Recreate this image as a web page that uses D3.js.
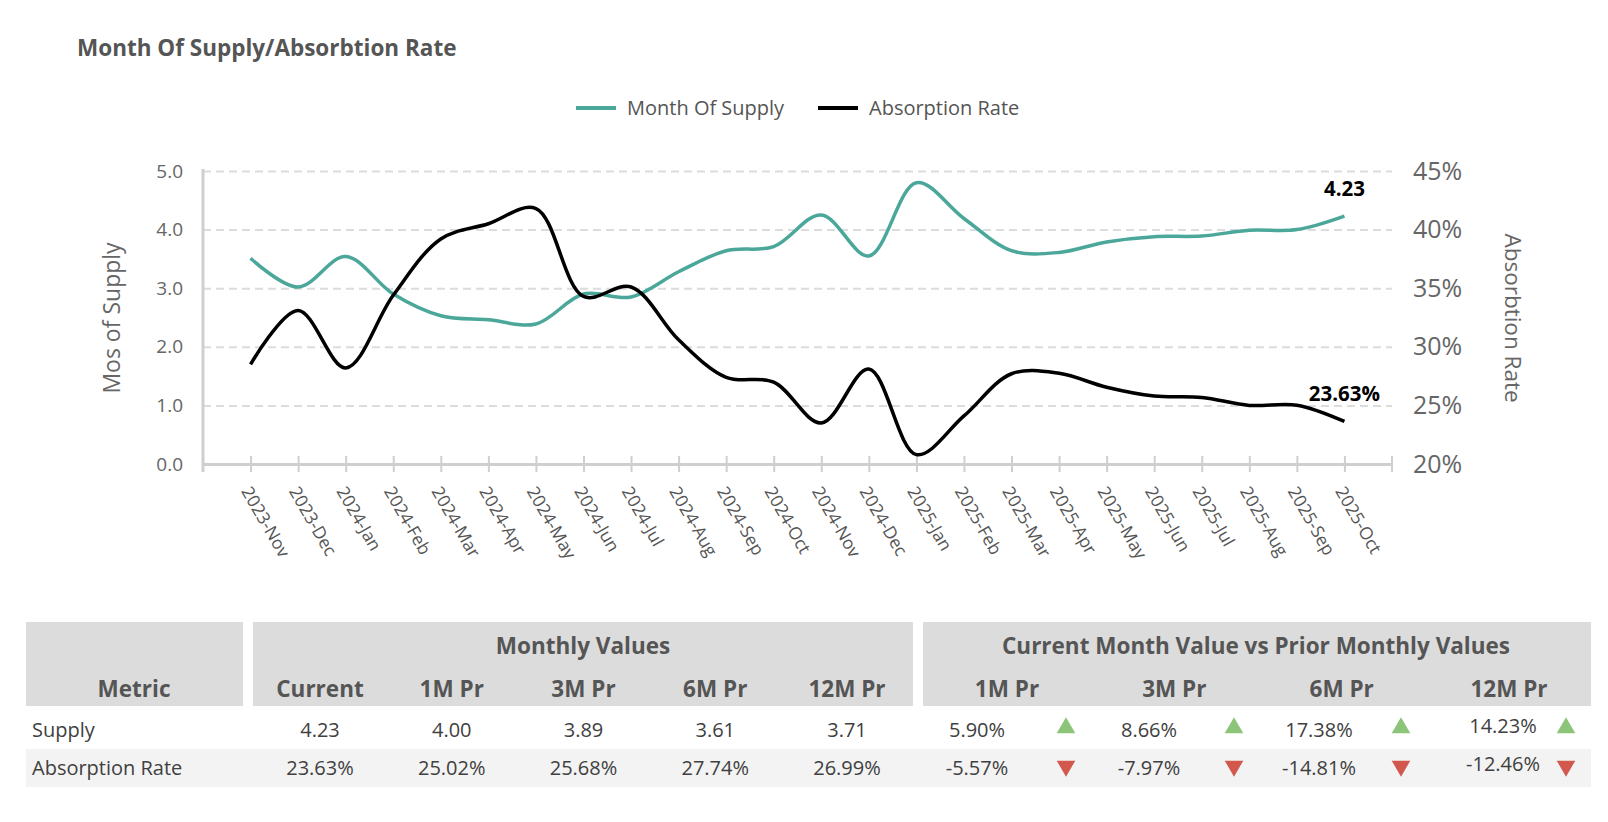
<!DOCTYPE html>
<html>
<head>
<meta charset="utf-8">
<script src="https://cdn.jsdelivr.net/npm/d3@7"></script>
<style>
  body { margin: 0; background: #fff; }
  svg { font-family: "Open Sans", "Noto Sans", sans-serif; }
</style>
</head>
<body>
<div id="chart"></div>
<script>
// chart data
const months = [
  "2023-Nov", "2023-Dec", "2024-Jan", "2024-Feb", "2024-Mar", "2024-Apr",
  "2024-May", "2024-Jun", "2024-Jul", "2024-Aug", "2024-Sep", "2024-Oct",
  "2024-Nov", "2024-Dec", "2025-Jan", "2025-Feb", "2025-Mar", "2025-Apr",
  "2025-May", "2025-Jun", "2025-Jul", "2025-Aug", "2025-Sep", "2025-Oct",
];
const supply = [
  3.51, 3.02, 3.54, 2.9, 2.53, 2.46, 2.39, 2.9, 2.85, 3.28, 3.64, 3.71,
  4.25, 3.55, 4.8, 4.19, 3.64, 3.61, 3.79, 3.88, 3.89, 3.99, 4.0, 4.23,
];
const absorption = [
  28.5, 33.1, 28.2, 34.4, 39.2, 40.5, 41.8, 34.3, 35.1, 30.6, 27.4, 26.99,
  23.5, 28.1, 20.8, 24.1, 27.7, 27.74, 26.55, 25.8, 25.68, 25.0, 25.02, 23.63,
];
const leftTicks = [0, 1, 2, 3, 4, 5];
const rightTicks = [20, 25, 30, 35, 40, 45];

// table data
const metrics = ["Supply", "Absorption Rate"];
const valueHeaders = ["Current", "1M Pr", "3M Pr", "6M Pr", "12M Pr"];
const supplyValues = ["4.23", "4.00", "3.89", "3.61", "3.71"];
const absorptionValues = ["23.63%", "25.02%", "25.68%", "27.74%", "26.99%"];
const changeHeaders = ["1M Pr", "3M Pr", "6M Pr", "12M Pr"];
const supplyChange = [5.9, 8.66, 17.38, 14.23];
const absorptionChange = [-5.57, -7.97, -14.81, -12.46];

const width = 1608;
const height = 822;
const teal = "#4aa79a";

const svg = d3
  .select("#chart")
  .append("svg")
  .attr("width", width)
  .attr("height", height);

// title
svg
  .append("text")
  .attr("x", 77)
  .attr("y", 56)
  .attr("font-size", 22.5)
  .attr("font-weight", "bold")
  .attr("fill", "#555")
  .text("Month Of Supply/Absorbtion Rate");

// legend
const legend = [
  { name: "Month Of Supply", color: teal, x: 576 },
  { name: "Absorption Rate", color: "#000", x: 818 },
];
const lg = svg.append("g").selectAll("g").data(legend).join("g")
  .attr("transform", (d) => `translate(${d.x},108)`);
lg.append("line").attr("x1", 0).attr("x2", 40)
  .attr("stroke", (d) => d.color).attr("stroke-width", 4);
lg.append("text").attr("x", 51).attr("y", 7)
  .attr("font-size", 20).attr("fill", "#555").text((d) => d.name);

// scales
const x = d3.scalePoint().domain(months).range([203, 1392]).padding(1);
const yL = d3.scaleLinear().domain([0, 5]).range([464, 171]);
const yR = d3.scaleLinear().domain([20, 45]).range([464, 171]);

// grid
svg.append("g")
  .attr("transform", "translate(203,0)")
  .call(d3.axisLeft(yL).tickValues(leftTicks.slice(1)).tickSize(-1189).tickFormat(""))
  .call((g) => g.select(".domain").remove())
  .call((g) => g.selectAll("line")
    .attr("stroke", "#dcdcdc").attr("stroke-width", 2).attr("stroke-dasharray", "8,5"));

// left axis
svg.append("g")
  .attr("transform", "translate(203,0)")
  .call(d3.axisLeft(yL).tickValues(leftTicks).tickFormat(d3.format(".1f")).tickSize(0).tickPadding(20))
  .call((g) => g.select(".domain").attr("d", "M0,169V472").attr("stroke", "#cfcfcf").attr("stroke-width", 3))
  .call((g) => g.selectAll("text").attr("font-size", 19).attr("fill", "#666")
    .attr("font-family", "Open Sans"));

// right axis
svg.append("g")
  .attr("transform", "translate(1392,0)")
  .call(d3.axisRight(yR).tickValues(rightTicks).tickFormat((d) => d + "%").tickSize(0).tickPadding(21))
  .call((g) => g.select(".domain").remove())
  .call((g) => g.selectAll("text").attr("font-size", 25).attr("fill", "#666")
    .attr("font-family", "Open Sans"));

// bottom axis
const xAxis = svg.append("g")
  .attr("transform", "translate(0,464)")
  .call(d3.axisBottom(x).tickSize(8).tickSizeOuter(0).tickPadding(0));
xAxis.select(".domain").attr("stroke", "#cfcfcf").attr("stroke-width", 3);
xAxis.selectAll(".tick line").attr("y1", -8).attr("stroke", "#cfcfcf").attr("stroke-width", 2);
xAxis.selectAll(".tick text")
  .attr("font-size", 17.5)
  .attr("font-family", "Open Sans")
  .attr("fill", "#555")
  .attr("text-anchor", "start")
  .attr("dy", "0.35em")
  .attr("transform", "translate(2,20) rotate(60)");
xAxis.selectAll(".endTick").data([203, 1392]).join("line")
  .attr("class", "endTick")
  .attr("x1", (d) => d).attr("x2", (d) => d)
  .attr("y1", -8).attr("y2", 8)
  .attr("stroke", "#cfcfcf").attr("stroke-width", 2);

// axis titles
svg.append("text")
  .attr("transform", "translate(120,318) rotate(-90)")
  .attr("text-anchor", "middle")
  .attr("font-size", 23).attr("fill", "#666")
  .text("Mos of Supply");
svg.append("text")
  .attr("transform", "translate(1505,318) rotate(90)")
  .attr("text-anchor", "middle")
  .attr("font-size", 22.5).attr("fill", "#666")
  .text("Absorbtion Rate");

// lines
const curve = d3.curveCatmullRom.alpha(0.5);
svg.append("path")
  .datum(supply)
  .attr("fill", "none")
  .attr("stroke", teal)
  .attr("stroke-width", 3.5)
  .attr("d", d3.line().x((d, i) => x(months[i])).y((d) => yL(d)).curve(curve));
svg.append("path")
  .datum(absorption)
  .attr("fill", "none")
  .attr("stroke", "#000")
  .attr("stroke-width", 3.5)
  .attr("d", d3.line().x((d, i) => x(months[i])).y((d) => yR(d)).curve(curve));

// end labels
const last = months.length - 1;
svg.append("text")
  .attr("x", x(months[last])).attr("y", yL(supply[last]) - 20)
  .attr("text-anchor", "middle").attr("font-size", 20.5).attr("font-weight", "bold")
  .text(supply[last].toFixed(2));
svg.append("text")
  .attr("x", x(months[last])).attr("y", yR(absorption[last]) - 20)
  .attr("text-anchor", "middle").attr("font-size", 20.5).attr("font-weight", "bold")
  .text(absorption[last].toFixed(2) + "%");

// table
const tbl = svg.append("g");
const headGray = "#dcdcdc";
tbl.append("rect").attr("x", 26).attr("y", 622).attr("width", 217).attr("height", 84).attr("fill", headGray);
tbl.append("rect").attr("x", 253).attr("y", 622).attr("width", 660).attr("height", 84).attr("fill", headGray);
tbl.append("rect").attr("x", 923).attr("y", 622).attr("width", 668).attr("height", 84).attr("fill", headGray);
tbl.append("rect").attr("x", 26).attr("y", 749).attr("width", 1565).attr("height", 38).attr("fill", "#f3f3f3");

const headStyle = (s) => s.attr("font-size", 22.5).attr("font-weight", "bold")
  .attr("fill", "#555").attr("text-anchor", "middle");
tbl.append("text").attr("x", 583).attr("y", 654).call(headStyle).text("Monthly Values");
tbl.append("text").attr("x", 1256).attr("y", 654).call(headStyle)
  .text("Current Month Value vs Prior Monthly Values");
tbl.append("text").attr("x", 134).attr("y", 697).call(headStyle).text("Metric");

const valueX = d3.scalePoint().domain(valueHeaders).range([320, 847]);
tbl.selectAll(".vh").data(valueHeaders).join("text").attr("class", "vh")
  .attr("x", (d) => valueX(d)).attr("y", 697).call(headStyle).text((d) => d);

const changeX = d3.scalePoint().domain(d3.range(changeHeaders.length)).range([1007, 1509]);
tbl.selectAll(".ch").data(changeHeaders).join("text").attr("class", "ch")
  .attr("x", (d, i) => changeX(i)).attr("y", 697).call(headStyle).text((d) => d);

const rowY = [737, 775];
const rowStyle = (s) => s.attr("font-size", 20).attr("fill", "#404040");
tbl.selectAll(".metric").data(metrics).join("text").attr("class", "metric")
  .attr("x", 32).attr("y", (d, i) => rowY[i]).call(rowStyle).text((d) => d);

[supplyValues, absorptionValues].forEach((vals, r) => {
  tbl.selectAll(".v" + r).data(vals).join("text").attr("class", "v" + r)
    .attr("x", (d, i) => valueX(valueHeaders[i])).attr("y", rowY[r])
    .attr("text-anchor", "middle").call(rowStyle).text((d) => d);
});

const pctX = [977, 1149, 1319, 1503];
const triX = [1066, 1234, 1401, 1566];
const tri = d3.symbol().type(d3.symbolTriangle).size(150);
[supplyChange, absorptionChange].forEach((vals, r) => {
  tbl.selectAll(".c" + r).data(vals).join("text").attr("class", "c" + r)
    .attr("x", (d, i) => pctX[i]).attr("y", (d, i) => rowY[r] - (i === 3 ? 4 : 0))
    .attr("text-anchor", "middle").call(rowStyle).text((d) => d.toFixed(2) + "%");
  tbl.selectAll(".t" + r).data(vals).join("path").attr("class", "t" + r)
    .attr("d", tri)
    .attr("transform", (d, i) => `translate(${triX[i]},${rowY[r] - 9}) rotate(${d >= 0 ? 0 : 180})`)
    .attr("fill", (d) => (d >= 0 ? "#8cc47a" : "#d2574c"));
});
</script>
</body>
</html>
